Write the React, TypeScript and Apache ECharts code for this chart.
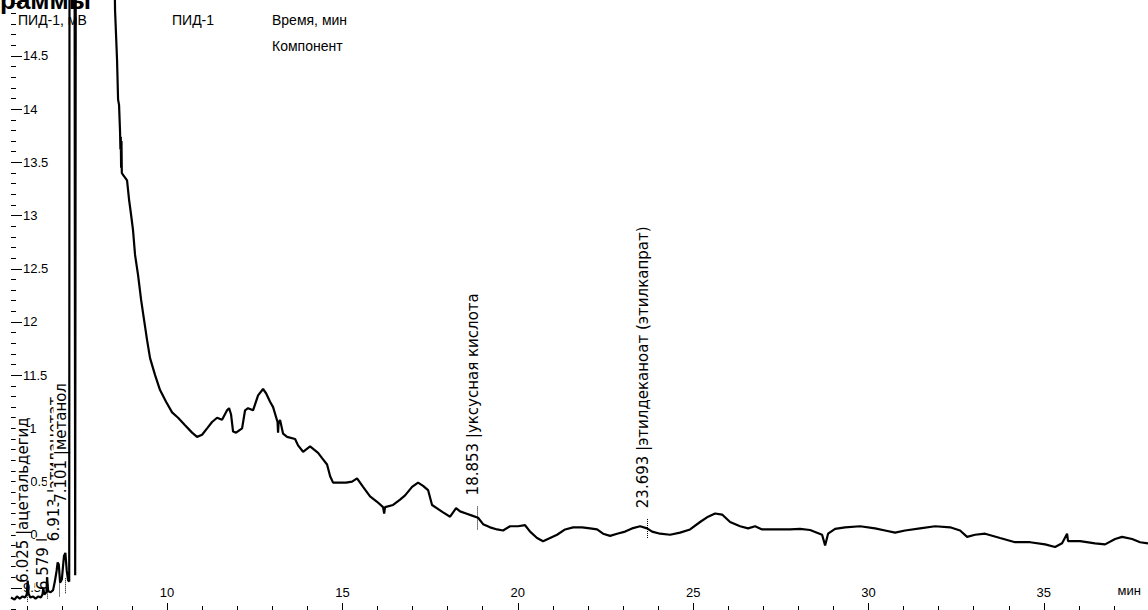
import React, { useEffect, useRef } from "react";
import * as echarts from "echarts";

// Chromatogram trace: retention time (min) and detector signal (mV)
const time = [
  5.55, 5.65, 5.72, 5.8, 5.88, 5.95, 6.0, 6.025, 6.05, 6.1, 6.18, 6.25, 6.33, 6.4, 6.45, 6.47, 6.5, 6.56, 6.579, 6.61,
  6.68, 6.75, 6.8, 6.85, 6.88, 6.913, 6.95, 7.0, 7.06, 7.101, 7.14, 7.18, 7.21, 7.22, 7.36, 7.38, 7.4, 8.45, 8.517, 8.574,
  8.603, 8.631, 8.66, 8.67, 8.68, 8.69, 8.7, 8.71, 8.75, 8.859, 8.916, 8.973, 9.03, 9.087, 9.173, 9.259, 9.344, 9.43, 9.515, 9.658,
  9.8, 9.971, 10.143, 10.314, 10.513, 10.713, 10.855, 10.998, 11.141, 11.283, 11.426, 11.568, 11.711, 11.768, 11.825, 11.882, 11.968, 12.139, 12.224, 12.31,
  12.452, 12.595, 12.737, 12.823, 12.937, 13.023, 13.15, 13.165, 13.18, 13.222, 13.308, 13.422, 13.65, 13.735, 13.878, 14.078, 14.306, 14.42, 14.562, 14.65,
  14.733, 14.933, 15.104, 15.275, 15.418, 15.589, 15.788, 15.988, 16.159, 16.19, 16.216, 16.444, 16.644, 16.787, 16.986, 17.157, 17.3, 17.442, 17.556, 17.784,
  17.87, 18.07, 18.241, 18.355, 18.526, 18.697, 18.868, 19.011, 19.21, 19.41, 19.581, 19.781, 20.009, 20.208, 20.351, 20.55, 20.721, 20.921, 21.121, 21.349,
  21.577, 21.834, 22.062, 22.261, 22.432, 22.632, 22.832, 23.06, 23.259, 23.488, 23.688, 23.83, 24.058, 24.343, 24.628, 24.913, 25.198, 25.427, 25.626, 25.826,
  26.054, 26.339, 26.567, 26.767, 26.966, 27.337, 27.764, 28.05, 28.335, 28.677, 28.763, 28.848, 29.048, 29.333, 29.761, 30.188, 30.473, 30.759, 31.044, 31.471,
  31.899, 32.327, 32.612, 32.812, 33.04, 33.325, 33.752, 34.18, 34.608, 35.036, 35.321, 35.52, 35.663, 35.69, 36.033, 36.461, 36.746, 37.032, 37.231, 37.517,
  37.745, 37.97,
];
const signal = [
  9.41, 9.39, 9.42, 9.4, 9.42, 9.41, 9.44, 9.57, 9.45, 9.41, 9.42, 9.4, 9.42, 9.41, 9.44, 9.5, 9.44, 9.46, 9.6, 9.47,
  9.46, 9.48, 9.56, 9.66, 9.74, 9.72, 9.55, 9.58, 9.8, 9.83, 9.66, 9.57, 9.56, 16.5, 16.5, 9.62, 16.5, 16.5, 14.93, 14.46,
  14.09, 14.04, 13.78, 13.62, 13.74, 13.45, 13.7, 13.4, 13.38, 13.33, 13.15, 13.01, 12.86, 12.63, 12.44, 12.21, 12.02, 11.83, 11.66, 11.5,
  11.36, 11.25, 11.15, 11.1, 11.03, 10.96, 10.92, 10.94, 11.0, 11.06, 11.1, 11.08, 11.17, 11.19, 11.13, 10.97, 10.96, 11.0, 11.17, 11.19,
  11.17, 11.31, 11.37, 11.33, 11.25, 11.2, 11.06, 10.96, 11.05, 11.08, 10.95, 10.92, 10.9, 10.84, 10.78, 10.83, 10.77, 10.72, 10.66, 10.55,
  10.49, 10.49, 10.49, 10.5, 10.53, 10.45, 10.36, 10.31, 10.26, 10.2, 10.26, 10.28, 10.33, 10.37, 10.45, 10.49, 10.46, 10.42, 10.28, 10.23,
  10.21, 10.17, 10.25, 10.22, 10.2, 10.18, 10.16, 10.1, 10.07, 10.05, 10.04, 10.08, 10.08, 10.09, 10.03, 9.97, 9.94, 9.97, 10.0, 10.05,
  10.07, 10.07, 10.06, 10.05, 10.01, 9.99, 10.01, 10.03, 10.06, 10.08, 10.06, 10.03, 10.01, 10.0, 10.02, 10.05, 10.12, 10.17, 10.2, 10.19,
  10.12, 10.08, 10.06, 10.08, 10.05, 10.05, 10.05, 10.055, 10.045, 10.0, 9.9, 10.01, 10.055, 10.07, 10.08, 10.06, 10.04, 10.02, 10.04, 10.06,
  10.08, 10.07, 10.04, 9.98, 10.0, 10.01, 9.97, 9.93, 9.93, 9.91, 9.885, 9.92, 10.01, 9.94, 9.94, 9.92, 9.91, 9.96, 9.98, 9.96,
  9.93, 9.92,
];

// Identified peaks
const peakTimes = [6.025, 6.579, 6.913, 7.101, 18.853, 23.693];
const peakNames = ["ацетальдегид", "", "этилацетат", "метанол", "уксусная кислота", "этилдеканоат (этилкапрат)"];
const peakLabelStart = [9.55, 9.48, 9.94, 10.3, 10.37, 10.25];
const peakMarkLow = [9.37, 9.4, 9.42, 9.45, 10.05, 9.97];
const peakMarkHigh = [9.52, 9.55, 9.58, 9.6, 10.27, 10.15];

// Axis ticks and labels
const xMinorTicks = [6, 7, 8, 9, 10, 11, 12, 13, 14, 15, 16, 17, 18, 19, 20, 21, 22, 23, 24, 25, 26, 27, 28, 29, 30, 31, 32, 33, 34, 35, 36, 37];
const xMajorTicks = [10, 15, 20, 25, 30, 35];
const yMinorTicks = [
  9.3, 9.4, 9.5, 9.6, 9.7, 9.8, 9.9, 10.0, 10.1, 10.2, 10.3, 10.4, 10.5, 10.6, 10.7, 10.8, 10.9, 11.0, 11.1, 11.2,
  11.3, 11.4, 11.5, 11.6, 11.7, 11.8, 11.9, 12.0, 12.1, 12.2, 12.3, 12.4, 12.5, 12.6, 12.7, 12.8, 12.9, 13.0, 13.1, 13.2,
  13.3, 13.4, 13.5, 13.6, 13.7, 13.8, 13.9, 14.0, 14.1, 14.2, 14.3, 14.4, 14.5, 14.6, 14.7, 14.8, 14.9, 15.0,
];
const yMajorTicks = [9.5, 10, 10.5, 11, 11.5, 12, 12.5, 13, 13.5, 14, 14.5, 15];
const yLabelTicks = [9.5, 10, 10.5, 11, 11.5, 12, 12.5, 13, 13.5, 14, 14.5];

const FONT = "Liberation Sans";
const ANNO_FONT = "DejaVu Sans";
const X_MIN = 5.55;
const X_MAX = 37.97;
const Y_MIN = 9.293;
const Y_MAX = 15.026;

export default function App() {
  const ref = useRef<HTMLDivElement>(null);

  useEffect(() => {
    const chart = echarts.init(ref.current!, null, { renderer: "svg" });

    const xAxisDef = (ticks: number[], len: number, labels?: number[]) => ({
      type: "value",
      min: X_MIN,
      max: X_MAX,
      position: "bottom",
      axisLine: { show: false },
      splitLine: { show: false },
      axisTick: { show: true, inside: true, length: len, customValues: ticks, lineStyle: { color: "#000", width: 1 } },
      axisLabel: labels
        ? { show: true, inside: true, customValues: labels, margin: 11, color: "#000", fontFamily: FONT, fontSize: 13 }
        : { show: false },
    });
    const yAxisDef = (ticks: number[], len: number, labels?: number[]) => ({
      type: "value",
      min: Y_MIN,
      max: Y_MAX,
      position: "left",
      axisLine: { show: false },
      splitLine: { show: false },
      axisTick: { show: true, inside: true, length: len, customValues: ticks, lineStyle: { color: "#000", width: 1 } },
      axisLabel: labels
        ? { show: true, inside: true, customValues: labels, margin: 12, color: "#000", fontFamily: FONT, fontSize: 13 }
        : { show: false },
    });

    chart.setOption({
      animation: false,
      backgroundColor: "#fff",
      grid: { left: 11, right: 0, top: 0, bottom: 0, containLabel: false },
      xAxis: [xAxisDef(xMinorTicks, 4), xAxisDef(xMajorTicks, 7, xMajorTicks)],
      yAxis: [yAxisDef(yMinorTicks, 5), yAxisDef(yMajorTicks, 11, yLabelTicks)],
      series: [
        {
          type: "line",
          xAxisIndex: 0,
          yAxisIndex: 0,
          data: time.map((t, i) => [t, signal[i]]),
          symbol: "none",
          showSymbol: false,
          clip: true,
          z: 3,
          lineStyle: { color: "#000", width: 2.2 },
          markLine: {
            silent: true,
            symbol: ["none", "none"],
            label: { show: false },
            lineStyle: { color: "#000", width: 1, type: "dotted" },
            data: peakTimes.map((t, i) => [{ coord: [t, peakMarkLow[i]] }, { coord: [t, peakMarkHigh[i]] }]),
          },
        },
      ],
    });

    const txt = (text: string, x: number, y: number, extra: any = {}) => ({
      type: "text",
      x,
      y,
      z: 5,
      style: { text, fill: "#000", fontFamily: FONT, fontSize: 14, align: "left", verticalAlign: "middle", ...extra },
    });

    const annotations = peakTimes.map((t, i) => {
      const p = chart.convertToPixel({ gridIndex: 0 }, [t, peakLabelStart[i]]) as number[];
      return {
        type: "text",
        x: p[0] + 3,
        y: p[1],
        rotation: Math.PI / 2,
        z: 1,
        style: {
          text: `${t.toFixed(3)} |${peakNames[i]}`,
          fill: "#000",
          fontFamily: ANNO_FONT,
          fontSize: 15,
          align: "left",
          verticalAlign: "bottom",
          backgroundColor: "#fff",
        },
      };
    });

    chart.setOption({
      graphic: [
        txt("раммы", 0, 13, { fontWeight: "bold", fontSize: 26, verticalAlign: "bottom" }),
        txt("ПИД-1, мВ", 18, 20),
        txt("ПИД-1", 172, 20),
        txt("Время, мин", 272, 20),
        txt("Компонент", 272, 46),
        txt("мин", 1141, 590, { align: "right", fontSize: 13 }),
        ...annotations,
      ],
    });

    return () => chart.dispose();
  }, []);

  return <div ref={ref} style={{ position: "absolute", left: 0, top: 0, width: 1148, height: 610 }} />;
}
